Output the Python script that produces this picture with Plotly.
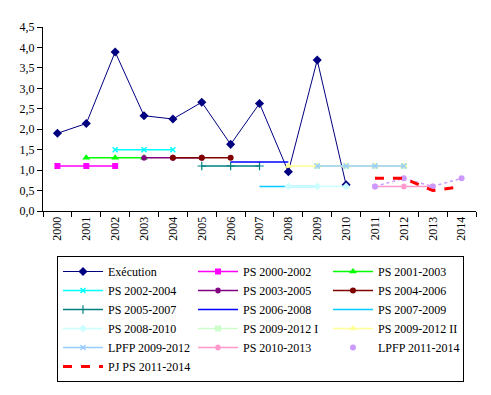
import plotly.graph_objects as go

years = [str(y) for y in range(2000, 2015)]

exec_years = years[0:11]
exec_values = [1.90, 2.14, 3.89, 2.33, 2.25, 2.66, 1.63, 2.63, 0.96, 3.69, 0.64]
exec_labels = ["1,9", "2,1", "3,9", "2,3", "2,2", "2,6", "1,6", "2,6", "1,0", "3,7", "0,6"]

ps_2000_2002_years = ["2000", "2001", "2002"]
ps_2000_2002 = [1.1, 1.1, 1.1]
ps_2001_2003_years = ["2001", "2002", "2003"]
ps_2001_2003 = [1.3, 1.3, 1.3]
ps_2002_2004_years = ["2002", "2003", "2004"]
ps_2002_2004 = [1.5, 1.5, 1.5]
ps_2003_2005_years = ["2003", "2004", "2005"]
ps_2003_2005 = [1.3, 1.3, 1.3]
ps_2004_2006_years = ["2004", "2005", "2006"]
ps_2004_2006 = [1.3, 1.3, 1.3]
ps_2005_2007_years = ["2005", "2006", "2007"]
ps_2005_2007 = [1.1, 1.1, 1.1]
ps_2006_2008_years = ["2006", "2007", "2008"]
ps_2006_2008 = [1.2, 1.2, 1.2]
ps_2007_2009_years = ["2007", "2008", "2009"]
ps_2007_2009 = [0.6, 0.6, 0.6]
ps_2008_2010_years = ["2008", "2009", "2010"]
ps_2008_2010 = [0.6, 0.6, 0.6]
ps_2009_2012_i_years = ["2009", "2010", "2011", "2012"]
ps_2009_2012_i = [1.1, 1.1, 1.1, 1.1]
ps_2009_2012_ii_years = ["2008", "2009", "2010", "2011", "2012"]
ps_2009_2012_ii = [1.1, 1.1, 1.1, 1.1, 1.1]
lpfp_2009_2012_years = ["2009", "2010", "2011", "2012"]
lpfp_2009_2012 = [1.1, 1.1, 1.1, 1.1]
ps_2010_2013_years = ["2011", "2012", "2013"]
ps_2010_2013 = [0.6, 0.6, 0.6]
lpfp_2011_2014_years = ["2011", "2012", "2013", "2014"]
lpfp_2011_2014 = [0.6, 0.8, 0.6, 0.8]
pj_ps_2011_2014_years = ["2011", "2012", "2013", "2014"]
pj_ps_2011_2014 = [0.8, 0.8, 0.5, 0.6]

FONT = "Liberation Serif"

fig = go.Figure()


def add(name, x, y, color, symbol=None, size=7, width=1.5, dash="solid", mode="lines+markers", showlegend=True, mline=0):
    marker = dict(color=color, size=size, line=dict(color=color, width=mline))
    if symbol is None:
        mode = "lines"
    else:
        marker["symbol"] = symbol
    fig.add_trace(go.Scatter(
        x=x, y=y, name=name, mode=mode, showlegend=showlegend,
        line=dict(color=color, width=width, dash=dash),
        marker=marker,
    ))


add("Exécution", exec_years, exec_values, "#000080", "diamond", size=7, width=1)
add("PS 2000-2002", ps_2000_2002_years, ps_2000_2002, "#FF00FF", "square", size=6)
add("PS 2001-2003", ps_2001_2003_years, ps_2001_2003, "#00FF00", "triangle-up", size=7)
add("PS 2002-2004", ps_2002_2004_years, ps_2002_2004, "#00FFFF", "x-thin-open", size=5, mline=1.5)
add("PS 2003-2005", ps_2003_2005_years, ps_2003_2005, "#800080", "asterisk-open", size=5, mline=1.5)
add("PS 2004-2006", ps_2004_2006_years, ps_2004_2006, "#800000", "circle", size=6)
add("PS 2005-2007", ps_2005_2007_years, ps_2005_2007, "#008080", "cross-thin-open", size=6, mline=1.2)
add("PS 2006-2008", ps_2006_2008_years, ps_2006_2008, "#0000FF", None)
add("PS 2007-2009", ps_2007_2009_years, ps_2007_2009, "#00CCFF", None)
add("PS 2008-2010", ps_2008_2010_years, ps_2008_2010, "#CCFFFF", "diamond", size=6)
add("PS 2009-2012 I", ps_2009_2012_i_years, ps_2009_2012_i, "#CCFFCC", "square", size=6)
add("PS 2009-2012 II", ps_2009_2012_ii_years, ps_2009_2012_ii, "#FFFF99", "triangle-up", size=7)
add("LPFP 2009-2012", lpfp_2009_2012_years, lpfp_2009_2012, "#99CCFF", "x-thin-open", size=5, mline=1.5)
add("PS 2010-2013", ps_2010_2013_years, ps_2010_2013, "#FF99CC", "asterisk-open", size=5, mline=1.5)
add("LPFP 2011-2014", lpfp_2011_2014_years, lpfp_2011_2014, "#CC99FF", None, dash="dot", showlegend=False)
add("LPFP 2011-2014", lpfp_2011_2014_years, lpfp_2011_2014, "#CC99FF", "circle", size=6, mode="markers")
add("PJ PS 2011-2014", pj_ps_2011_2014_years, pj_ps_2011_2014, "#FF0000", None, width=3, dash="dash")

# data labels of the execution series
shifts = {8: (-14, -6), 10: (16, 14)}
for i, (xv, yv, lab) in enumerate(zip(exec_years, exec_values, exec_labels)):
    xs, ys = shifts.get(i, (0, 18))
    fig.add_annotation(x=xv, y=yv, text=lab, showarrow=False, xshift=xs, yshift=ys,
                       font=dict(family=FONT, size=12, color="black"))

fig.update_layout(
    width=491, height=395,
    margin=dict(l=43, r=15, t=27, b=184),
    paper_bgcolor="white", plot_bgcolor="white",
    separators=", ",
    font=dict(family=FONT, size=12, color="black"),
    showlegend=True,
    legend=dict(
        orientation="h", xref="container", yref="container",
        x=57 / 491, xanchor="left", y=1 - 256 / 395, yanchor="top",
        bordercolor="black", borderwidth=1, bgcolor="white",
        entrywidth=80, entrywidthmode="pixels", itemwidth=40,
        font=dict(family=FONT, size=12, color="black"),
        traceorder="normal",
    ),
    xaxis=dict(
        type="category", categoryorder="array", categoryarray=years,
        range=[-0.5, 14.5], showgrid=False, zeroline=False,
        showline=True, linecolor="black", linewidth=1,
        ticks="outside", tickson="boundaries", ticklen=5, tickcolor="black",
        tickangle=-90, tickfont=dict(family=FONT, size=12, color="black"),
        automargin=False,
    ),
    yaxis=dict(
        range=[0, 4.5], dtick=0.5, tickformat=".1f", showgrid=False, zeroline=False,
        showline=True, linecolor="black", linewidth=1,
        ticks="outside", ticklen=5, tickcolor="black",
        tickfont=dict(family=FONT, size=12, color="black"),
        automargin=False,
    ),
)

fig.write_html("out.html", config={"displayModeBar": False},
               post_script="document.body.style.margin='0px';")
